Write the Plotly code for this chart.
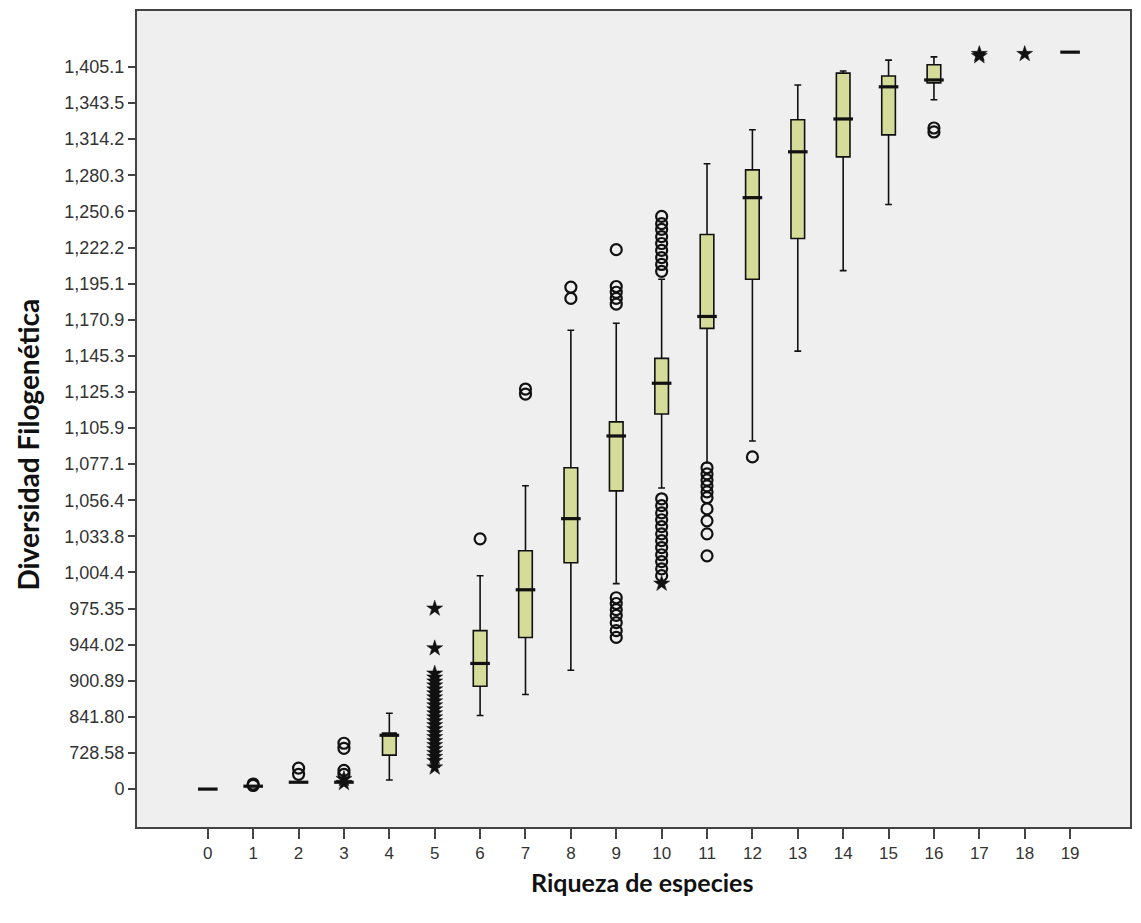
import plotly.graph_objects as go

# Y axis uses evenly spaced (ordinal) positions 0..20 labelled with the original values
y_tick_labels = ["0", "728.58", "841.80", "900.89", "944.02", "975.35", "1,004.4",
                 "1,033.8", "1,056.4", "1,077.1", "1,105.9", "1,125.3", "1,145.3",
                 "1,170.9", "1,195.1", "1,222.2", "1,250.6", "1,280.3", "1,314.2",
                 "1,343.5", "1,405.1"]
x_categories = list(range(20))

# Box statistics (in axis position units)
box_cat = [0, 1, 2, 3, 4, 6, 7, 8, 9, 10, 11, 12, 13, 14, 15, 16, 19]
box_low = [0.0, 0.08, 0.19, 0.19, 0.25, 2.04, 2.62, 3.29, 5.69, 8.34, 9.03, 9.64, 12.13, 14.36, 16.19, 19.09, 20.41]
box_q1 = [0.0, 0.08, 0.19, 0.19, 0.94, 2.85, 4.20, 6.27, 8.26, 10.39, 12.76, 14.12, 15.25, 17.51, 18.12, 19.56, 20.41]
box_med = [0.0, 0.08, 0.19, 0.19, 1.49, 3.48, 5.52, 7.49, 9.78, 11.24, 13.09, 16.38, 17.65, 18.56, 19.45, 19.64, 20.41]
box_q3 = [0.0, 0.08, 0.19, 0.19, 1.55, 4.39, 6.60, 8.90, 10.17, 11.93, 15.36, 17.15, 18.54, 19.83, 19.75, 20.06, 20.41]
box_high = [0.0, 0.08, 0.19, 0.19, 2.10, 5.91, 8.40, 12.71, 12.90, 14.12, 17.32, 18.26, 19.50, 19.89, 20.19, 20.28, 20.41]

# Outliers (circles)
circ_cat = ([1, 1] + [2, 2] + [3, 3, 3, 3] + [6] + [7, 7] + [8, 8]
            + [9] * 5 + [9] * 7
            + [10] * 9 + [10] * 12
            + [11] * 10 + [12] + [16, 16])
circ_val = ([0.14, 0.10] + [0.58, 0.41] + [1.27, 1.13, 0.52, 0.41] + [6.93]
            + [11.08, 10.94] + [13.90, 13.59]
            + [14.94, 13.92, 13.76, 13.59, 13.43]
            + [5.30, 5.14, 4.97, 4.81, 4.61, 4.39, 4.20]
            + [15.86, 15.66, 15.50, 15.30, 15.11, 14.92, 14.72, 14.53, 14.34]
            + [8.04, 7.85, 7.65, 7.46, 7.27, 7.07, 6.88, 6.69, 6.49, 6.30, 6.10, 5.91]
            + [8.90, 8.73, 8.56, 8.40, 8.23, 8.07, 7.76, 7.43, 7.07, 6.46]
            + [9.20] + [18.31, 18.20])

# Extreme values (stars)
star_cat = [3, 3] + [5] * 26 + [10] + [17, 17] + [18]
star_val = ([0.28, 0.17]
            + [5.00, 3.90, 3.20, 3.09, 2.98, 2.87, 2.76, 2.65, 2.54, 2.43, 2.32,
               2.21, 2.10, 1.99, 1.88, 1.77, 1.66, 1.55, 1.44, 1.33, 1.22, 1.11,
               1.00, 0.89, 0.78, 0.60]
            + [5.69] + [20.36, 20.30] + [20.36])

x_title = "Riqueza de especies"
y_title = "Diversidad Filogenética"

fig = go.Figure()

fig.add_trace(go.Box(
    x=box_cat, q1=box_q1, median=box_med, q3=box_q3,
    lowerfence=box_low, upperfence=box_high,
    boxpoints=False, width=0.3, whiskerwidth=0.5,
    fillcolor="#d5dc9a", line=dict(color="#111111", width=1.6),
    showlegend=False, hoverinfo="skip"))

fig.add_trace(go.Scatter(
    x=box_cat, y=box_med, mode="markers", showlegend=False,
    marker=dict(symbol="line-ew", size=14, line=dict(color="#111111", width=3.2))))

fig.add_trace(go.Scatter(
    x=circ_cat, y=circ_val, mode="markers", showlegend=False,
    marker=dict(symbol="circle-open", size=11, color="#111111",
                line=dict(color="#111111", width=2.2))))

fig.add_trace(go.Scatter(
    x=star_cat, y=star_val, mode="markers", showlegend=False,
    marker=dict(symbol="star", size=12, color="#111111",
                line=dict(color="#111111", width=0.5))))

fig.update_layout(
    width=1125, height=907,
    margin=dict(l=129, r=1, t=1, b=88),
    paper_bgcolor="white", plot_bgcolor="#efefef",
    font=dict(family="Liberation Sans, Arial, sans-serif", color="#333333"),
    xaxis=dict(
        range=[-1.56, 20.32], tickmode="array", tickvals=x_categories,
        ticktext=[str(c) for c in x_categories],
        showgrid=False, zeroline=False,
        showline=True, linecolor="#444444", linewidth=2, mirror=True,
        ticks="outside", ticklen=10, tickwidth=1.5, tickcolor="#444444",
        tickfont=dict(family="Liberation Sans Narrow, Liberation Sans, Arial", size=17, color="#333333")),
    yaxis=dict(
        range=[-1.05, 21.55], tickmode="array", tickvals=list(range(len(y_tick_labels))),
        ticktext=y_tick_labels,
        showgrid=False, zeroline=False,
        showline=True, linecolor="#444444", linewidth=2, mirror=True,
        ticks="outside", ticklen=7, tickwidth=1.5, tickcolor="#444444",
        tickfont=dict(size=18, color="#333333")),
    annotations=[
        dict(text="<b>" + x_title + "</b>", xref="paper", yref="paper",
             x=0.5085, y=-0.067, xanchor="center", yanchor="middle", showarrow=False,
             font=dict(family="Lato, Carlito, sans-serif", size=25, color="#111111")),
        dict(text="<b>" + y_title + "</b>", xref="paper", yref="paper", textangle=-90,
             x=-0.1095, y=0.469, xanchor="center", yanchor="middle", showarrow=False,
             font=dict(family="Lato, Carlito, sans-serif", size=28, color="#111111")),
    ],
)

fig.write_html("out.html")
